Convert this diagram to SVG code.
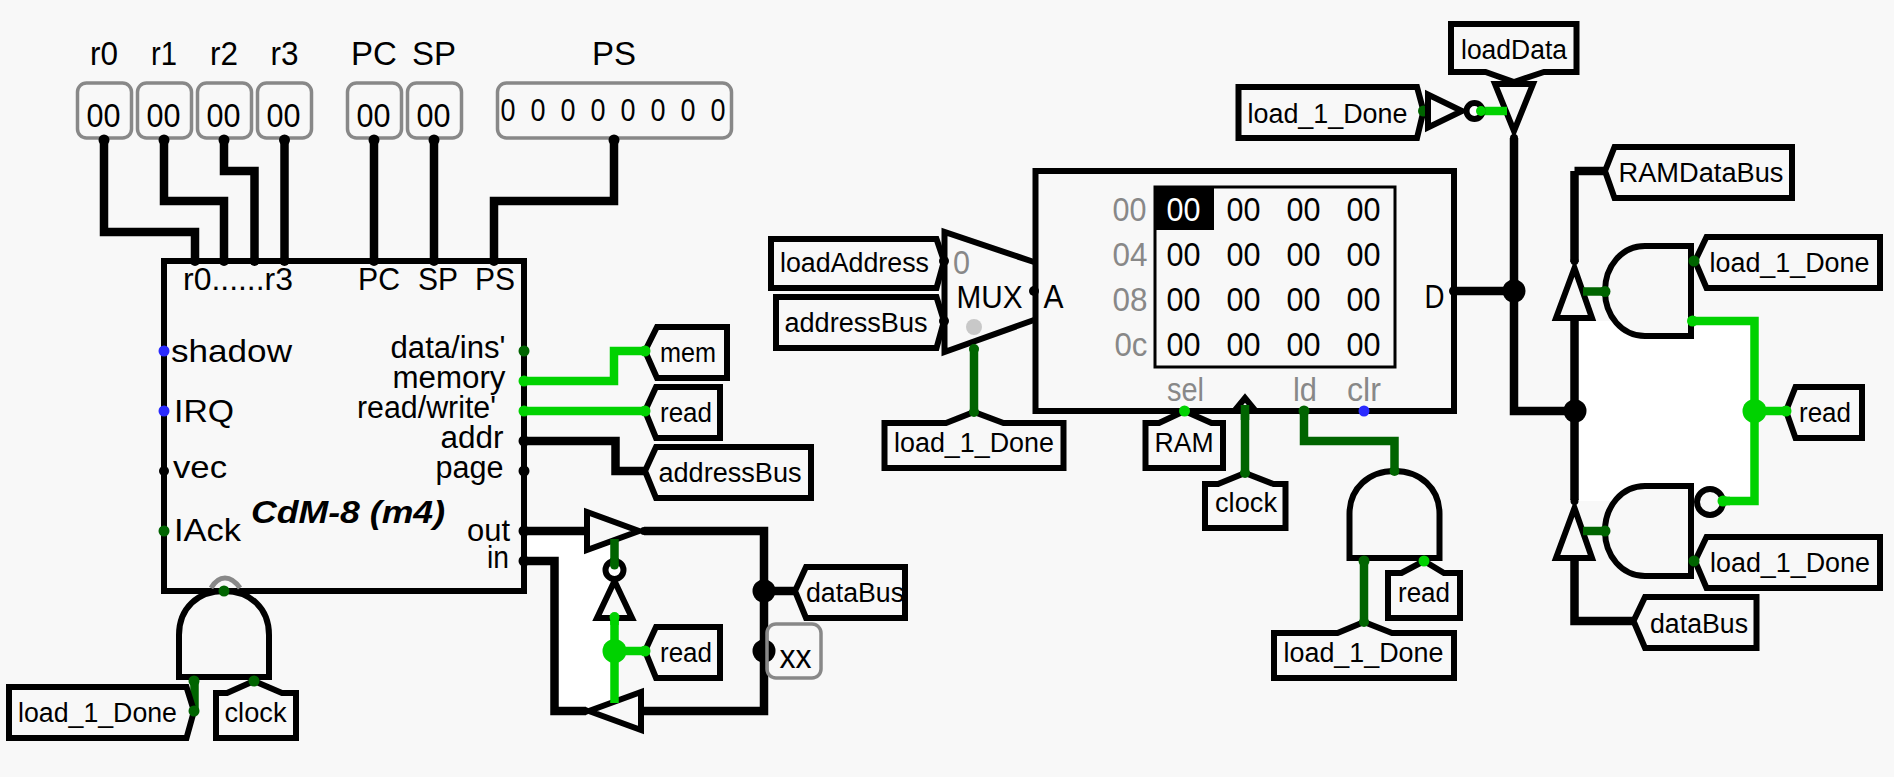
<svg xmlns="http://www.w3.org/2000/svg" width="1894" height="777" viewBox="0 0 1894 777">
<style>
text{font-family:"Liberation Sans",Arial,sans-serif;fill:#000;white-space:pre}
.m{font-size:33px;text-anchor:middle}
.d{font-size:34px;text-anchor:middle}
.b{font-size:31px;text-anchor:middle}
.l{font-size:32px}
.r{font-size:31px;text-anchor:end}
.t{font-size:27px;text-anchor:middle}
.g{fill:#888}
.reg{fill:none;stroke:#888;stroke-width:3.5}
.tag{fill:#f8f8f8;stroke:#000;stroke-width:6;stroke-linejoin:miter}
.gate{fill:#f8f8f8;stroke:#000;stroke-width:6}
.tri{fill:#f8f8f8;stroke:#000;stroke-width:6}
.w{fill:none;stroke:#000;stroke-width:8.500;stroke-linejoin:miter}
.wg{fill:none;stroke:#00d200;stroke-width:8.500}
.wd{fill:none;stroke:#006400;stroke-width:8.500}
.pk{fill:#000}.pg{fill:#00d200}.pd{fill:#006400}.pb{fill:#2a2aff}
</style>
<rect width="1894" height="777" fill="#f8f8f8"/>
<g id="backfill">
<polygon fill="#fff" points="524,531 614.500,531 614.500,711 555,711 555,561 524,561"/>
<rect fill="#fff" x="1575" y="321" width="179" height="180"/>
</g>
<g id="tristate-out"><polygon class="tri" points="587,512 587,550 639,531"/></g>
<g id="tristate-in"><polygon class="tri" points="641,692 641,730 589,711"/></g>
<g id="tristate-load"><polygon class="tri" points="1495,84 1533,84 1514,131"/></g>
<g id="tristate-up"><polygon class="tri" points="1556,318 1592,318 1574.500,268"/></g>
<g id="tristate-low"><polygon class="tri" points="1556,558 1592,558 1574.500,508"/></g>
<g id="connectors">
<path class="w" d="M104,140V232H195V261M164,140V201H224V261M224,140V171H254.500V261M284.500,140V261M374,140V261M434,140V261M614,140V201H494V261"/>
<path class="wg" d="M524,381H614V351H645M524,411H645M1693,321H1754.500V501H1723M1754.500,411H1786M614.500,617V703M614.500,651H645M1479,111H1507"/>
<path class="wd" d="M614.500,539V565M194.500,681V711M974,347V412M1245,412V473M1304,411V441H1394.500V472M1364,561V622M1583,291.500H1605M1583,531H1605"/>
<path class="w" d="M524,441H615.500V471H645M524,531H588M644,531H764V711H642M586,711H554.500V561H524M764,591H795M1454,291H1514M1514,138V411H1575M1574.500,171V262M1574.500,171H1605M1574.500,318V500M1574.500,558V621H1633"/>
<g class="pk"><circle cx="764" cy="591" r="11.500"/><circle cx="764" cy="651" r="11.500"/><circle cx="1514" cy="291" r="11.500"/><circle cx="1575" cy="411" r="11.500"/><circle cx="644" cy="531" r="4"/><circle cx="585" cy="711" r="4"/><circle cx="1514" cy="138" r="4"/><circle cx="1574.500" cy="261" r="4"/><circle cx="1574.500" cy="501" r="4"/></g>
<circle class="pg" cx="614.500" cy="651" r="12"/><circle class="pg" cx="1754.500" cy="411" r="12"/>
</g>
<g id="regs">
<rect class="reg" x="77.500" y="83" width="54" height="55" rx="9"/><rect class="reg" x="137.500" y="83" width="54" height="55" rx="9"/><rect class="reg" x="197.500" y="83" width="54" height="55" rx="9"/><rect class="reg" x="257.500" y="83" width="54" height="55" rx="9"/><rect class="reg" x="347.500" y="83" width="54" height="55" rx="9"/><rect class="reg" x="407.500" y="83" width="54" height="55" rx="9"/><rect class="reg" x="497.500" y="83" width="234" height="55" rx="9"/>
<text class="m" x="104" y="65" textLength="28" lengthAdjust="spacingAndGlyphs">r0</text><text class="m" x="164" y="65" textLength="26" lengthAdjust="spacingAndGlyphs">r1</text><text class="m" x="224" y="65" textLength="28" lengthAdjust="spacingAndGlyphs">r2</text><text class="m" x="284.500" y="65" textLength="28" lengthAdjust="spacingAndGlyphs">r3</text><text class="m" x="374" y="65">PC</text><text class="m" x="434" y="65">SP</text><text class="m" x="614" y="65">PS</text>
<text class="d" x="103.500" y="127" textLength="34" lengthAdjust="spacingAndGlyphs">00</text><text class="d" x="163.500" y="127" textLength="34" lengthAdjust="spacingAndGlyphs">00</text><text class="d" x="223.500" y="127" textLength="34" lengthAdjust="spacingAndGlyphs">00</text><text class="d" x="283.500" y="127" textLength="34" lengthAdjust="spacingAndGlyphs">00</text><text class="d" x="373.500" y="127" textLength="34" lengthAdjust="spacingAndGlyphs">00</text><text class="d" x="433.500" y="127" textLength="34" lengthAdjust="spacingAndGlyphs">00</text>
<text class="b" x="508" y="121" textLength="15" lengthAdjust="spacingAndGlyphs">0</text><text class="b" x="538" y="121" textLength="15" lengthAdjust="spacingAndGlyphs">0</text><text class="b" x="568" y="121" textLength="15" lengthAdjust="spacingAndGlyphs">0</text><text class="b" x="598" y="121" textLength="15" lengthAdjust="spacingAndGlyphs">0</text><text class="b" x="628" y="121" textLength="15" lengthAdjust="spacingAndGlyphs">0</text><text class="b" x="658" y="121" textLength="15" lengthAdjust="spacingAndGlyphs">0</text><text class="b" x="688" y="121" textLength="15" lengthAdjust="spacingAndGlyphs">0</text><text class="b" x="718" y="121" textLength="15" lengthAdjust="spacingAndGlyphs">0</text>
<g class="pk"><circle cx="104" cy="140" r="5.500"/><circle cx="164" cy="140" r="5.500"/><circle cx="224" cy="140" r="5.500"/><circle cx="284.500" cy="140" r="5.500"/><circle cx="374" cy="140" r="5.500"/><circle cx="434" cy="140" r="5.500"/><circle cx="614" cy="140" r="5.500"/></g>
</g>
<g id="cpu">
<rect x="164" y="261" width="360" height="330" fill="none" stroke="#000" stroke-width="6"/>
<text class="l" x="183" y="290" textLength="110" lengthAdjust="spacingAndGlyphs">r0......r3</text>
<text class="l" x="358" y="290" textLength="42" lengthAdjust="spacingAndGlyphs">PC</text><text class="l" x="418" y="290" textLength="40" lengthAdjust="spacingAndGlyphs">SP</text><text class="l" x="475" y="290" textLength="40" lengthAdjust="spacingAndGlyphs">PS</text>
<text class="l" x="171" y="362" textLength="121" lengthAdjust="spacingAndGlyphs">shadow</text>
<text class="l" x="174" y="422" textLength="60" lengthAdjust="spacingAndGlyphs">IRQ</text>
<text class="l" x="173" y="478" textLength="54" lengthAdjust="spacingAndGlyphs">vec</text>
<text class="l" x="174" y="541" textLength="67" lengthAdjust="spacingAndGlyphs">IAck</text>
<text class="r" x="505.500" y="358" textLength="115" lengthAdjust="spacingAndGlyphs">data/ins'</text><text class="r" x="505.500" y="388" textLength="113" lengthAdjust="spacingAndGlyphs">memory</text><text class="r" x="496" y="418" textLength="139" lengthAdjust="spacingAndGlyphs">read/write'</text><text class="r" x="503.500" y="448" textLength="63" lengthAdjust="spacingAndGlyphs">addr</text><text class="r" x="503.500" y="478" textLength="68" lengthAdjust="spacingAndGlyphs">page</text><text class="r" x="510" y="541" textLength="43" lengthAdjust="spacingAndGlyphs">out</text><text class="r" x="509" y="568" textLength="22" lengthAdjust="spacingAndGlyphs">in</text>
<text x="251" y="523" font-size="32" font-weight="bold" font-style="italic" textLength="194" lengthAdjust="spacingAndGlyphs">CdM-8 (m4)</text>
<path d="M211,588Q217,578 225,578Q233,578 240,588" fill="none" stroke="#888" stroke-width="5"/>
<g class="pk"><circle cx="195" cy="261" r="5"/><circle cx="224" cy="261" r="5"/><circle cx="254.500" cy="261" r="5"/><circle cx="284.500" cy="261" r="5"/><circle cx="374" cy="261" r="5"/><circle cx="434" cy="261" r="5"/><circle cx="494" cy="261" r="5"/><circle cx="164" cy="471" r="5"/><circle cx="524" cy="441" r="5.500"/><circle cx="524" cy="471" r="5.500"/><circle cx="524" cy="531" r="5.500"/><circle cx="524" cy="561" r="5.500"/></g>
<circle class="pb" cx="164" cy="351" r="5.500"/><circle class="pb" cx="164" cy="411" r="5.500"/><circle class="pd" cx="164" cy="531" r="5.500"/><circle class="pd" cx="524" cy="351" r="5.500"/><circle class="pg" cx="524" cy="381" r="5.500"/><circle class="pg" cx="524" cy="411" r="5.500"/>
</g>
<g id="and-bottom-left"><path class="gate" d="M179,677H269V635C269,608 250,591 224,591C198,591 179,608 179,635Z"/></g>
<g id="tag-load-1"><polygon class="tag" points="9,687 186.500,687 194,711 186.500,738 9,738"/><text class="t" x="97.500" y="722" textLength="159" lengthAdjust="spacingAndGlyphs">load_1_Done</text><circle class="pd" cx="194" cy="711" r="5.500"/><circle class="pd" cx="194" cy="681" r="5.500"/><circle class="pd" cx="224" cy="591" r="5.500"/></g>
<g id="tag-clock-1"><polygon class="tag" points="216,693 227,693 254,681 282,693 296,693 296,738 216,738"/><text class="t" x="255.500" y="722" textLength="62" lengthAdjust="spacingAndGlyphs">clock</text><circle class="pd" cx="254" cy="681" r="5.500"/></g>
<g id="tag-mem"><polygon class="tag" points="645,351 657,327 727,327 727,378 657,378"/><text class="t" x="688" y="362" textLength="56" lengthAdjust="spacingAndGlyphs">mem</text><circle class="pg" cx="645" cy="351" r="5.500"/></g>
<g id="tag-read-1"><polygon class="tag" points="645,411 656,387 720,387 720,438 656,438"/><text class="t" x="686" y="422" textLength="52" lengthAdjust="spacingAndGlyphs">read</text><circle class="pg" cx="645" cy="411" r="5.500"/></g>
<g id="tag-address-1"><polygon class="tag" points="645,471 656,447 811,447 811,498 656,498"/><text class="t" x="730" y="482" textLength="143" lengthAdjust="spacingAndGlyphs">addressBus</text></g>
<g id="not-read"><polygon class="tri" points="597,618 632,618 614.500,581"/><circle cx="614.500" cy="570" r="9" fill="#fff" stroke="#000" stroke-width="6"/><path class="wd" d="M614.500,558V565"/><circle class="pd" cx="614.500" cy="565" r="4.500"/><circle class="pg" cx="614.500" cy="617" r="5"/><path class="wg" d="M614.500,617V625"/></g>
<g id="tag-read-2"><polygon class="tag" points="645,651 656,627 720,627 720,678 656,678"/><text class="t" x="686" y="662" textLength="52" lengthAdjust="spacingAndGlyphs">read</text><circle class="pg" cx="645" cy="651" r="5.500"/></g>
<g id="tag-data-1"><polygon class="tag" points="795,591 806,567 905,567 905,618 806,618"/><text class="t" x="855" y="602" textLength="98" lengthAdjust="spacingAndGlyphs">dataBus</text></g>
<g id="probe-xx"><rect class="reg" x="767" y="624" width="54" height="54" rx="9"/><text class="m" x="795.500" y="668" textLength="32" lengthAdjust="spacingAndGlyphs">xx</text></g>
<g id="tag-load-address"><polygon class="tag" points="771,239 936.500,239 944,261 936.500,288 771,288"/><text class="t" x="854.500" y="272" textLength="149" lengthAdjust="spacingAndGlyphs">loadAddress</text></g>
<g id="tag-address-2"><polygon class="tag" points="776,297 936.500,297 944,321 936.500,348 776,348"/><text class="t" x="856" y="332" textLength="143" lengthAdjust="spacingAndGlyphs">addressBus</text></g>
<g id="mux"><path d="M1034,261L944.500,232V352L1034,321" fill="#f8f8f8" stroke="none"/><path d="M1034,262L944.500,232V352L1034,320" fill="none" stroke="#000" stroke-width="6"/>
<text class="m g" x="961.500" y="274" textLength="17" lengthAdjust="spacingAndGlyphs">0</text><text x="956.500" y="308" font-size="32" textLength="66" lengthAdjust="spacingAndGlyphs">MUX</text><circle cx="974" cy="327" r="8" fill="#c8c8c8"/><circle class="pk" cx="944" cy="261" r="5"/><circle class="pk" cx="944" cy="321" r="5"/></g>
<g id="ram">
<rect x="1035.500" y="171" width="418.500" height="240" fill="none" stroke="#000" stroke-width="6"/>
<rect x="1155" y="187" width="240" height="180" fill="none" stroke="#000" stroke-width="3"/>
<rect x="1155" y="187" width="59" height="43" fill="#000"/>
<text class="d" x="1183.500" y="220.500" textLength="34" lengthAdjust="spacingAndGlyphs" style="fill:#fff">00</text><text class="d" x="1243.500" y="220.500" textLength="34" lengthAdjust="spacingAndGlyphs">00</text><text class="d" x="1303.500" y="220.500" textLength="34" lengthAdjust="spacingAndGlyphs">00</text><text class="d" x="1363.500" y="220.500" textLength="34" lengthAdjust="spacingAndGlyphs">00</text>
<text class="d" x="1183.500" y="265.500" textLength="34" lengthAdjust="spacingAndGlyphs">00</text><text class="d" x="1243.500" y="265.500" textLength="34" lengthAdjust="spacingAndGlyphs">00</text><text class="d" x="1303.500" y="265.500" textLength="34" lengthAdjust="spacingAndGlyphs">00</text><text class="d" x="1363.500" y="265.500" textLength="34" lengthAdjust="spacingAndGlyphs">00</text>
<text class="d" x="1183.500" y="310.500" textLength="34" lengthAdjust="spacingAndGlyphs">00</text><text class="d" x="1243.500" y="310.500" textLength="34" lengthAdjust="spacingAndGlyphs">00</text><text class="d" x="1303.500" y="310.500" textLength="34" lengthAdjust="spacingAndGlyphs">00</text><text class="d" x="1363.500" y="310.500" textLength="34" lengthAdjust="spacingAndGlyphs">00</text>
<text class="d" x="1183.500" y="355.500" textLength="34" lengthAdjust="spacingAndGlyphs">00</text><text class="d" x="1243.500" y="355.500" textLength="34" lengthAdjust="spacingAndGlyphs">00</text><text class="d" x="1303.500" y="355.500" textLength="34" lengthAdjust="spacingAndGlyphs">00</text><text class="d" x="1363.500" y="355.500" textLength="34" lengthAdjust="spacingAndGlyphs">00</text>
<text class="d g" x="1129.500" y="220.500" textLength="34" lengthAdjust="spacingAndGlyphs">00</text><text class="d g" x="1130" y="265.500" textLength="35" lengthAdjust="spacingAndGlyphs">04</text><text class="d g" x="1130" y="310.500" textLength="35" lengthAdjust="spacingAndGlyphs">08</text><text class="d g" x="1131" y="355.500" textLength="33" lengthAdjust="spacingAndGlyphs">0c</text>
<text class="m" x="1053.500" y="308" textLength="20" lengthAdjust="spacingAndGlyphs">A</text><text class="m" x="1434.500" y="308" textLength="20" lengthAdjust="spacingAndGlyphs">D</text>
<text class="m g" x="1185.500" y="400.500" textLength="37" lengthAdjust="spacingAndGlyphs">sel</text><text class="m g" x="1305" y="400.500" textLength="24" lengthAdjust="spacingAndGlyphs">ld</text><text class="m g" x="1364" y="400.500" textLength="34" lengthAdjust="spacingAndGlyphs">clr</text>
<polygon points="1236,409 1245,398 1254,409" fill="#f8f8f8" stroke="#000" stroke-width="6"/>
<path class="wd" d="M1245,405V420"/>
<circle class="pk" cx="1034" cy="291" r="5"/><circle class="pk" cx="1454" cy="291" r="5"/><circle class="pd" cx="1304" cy="411" r="5.500"/><circle class="pb" cx="1364" cy="411" r="5.500"/>
</g>
<g id="tag-load-2"><polygon class="tag" points="884.500,423 946,423 974,412 1003.500,423 1063.500,423 1063.500,468 884.500,468"/><text class="t" x="974" y="452" textLength="160" lengthAdjust="spacingAndGlyphs">load_1_Done</text><circle class="pd" cx="974" cy="412" r="5"/><circle class="pd" cx="974" cy="349" r="5"/></g>
<g id="tag-ram"><polygon class="tag" points="1145.500,423 1159,423 1184.500,411 1211.500,423 1223,423 1223,468 1145.500,468"/><text class="t" x="1184" y="452" textLength="59" lengthAdjust="spacingAndGlyphs">RAM</text><circle class="pg" cx="1184.500" cy="411" r="5.500"/></g>
<g id="tag-clock-2"><polygon class="tag" points="1205,484 1218,484 1245,473 1273.500,484 1285.500,484 1285.500,528 1205,528"/><text class="t" x="1246" y="512" textLength="62" lengthAdjust="spacingAndGlyphs">clock</text><circle class="pd" cx="1245" cy="473" r="5"/></g>
<g id="and-ld"><path class="gate" d="M1349.500,558H1439.500V514C1439.500,488 1420,471 1394.500,471C1369,471 1349.500,488 1349.500,514Z"/><circle class="pd" cx="1394.500" cy="471" r="5"/><circle class="pd" cx="1364" cy="561" r="5.500"/></g>
<g id="tag-load-3"><polygon class="tag" points="1274,633 1337.500,633 1364,622 1392,633 1454,633 1454,678 1274,678"/><text class="t" x="1363.500" y="662" textLength="160" lengthAdjust="spacingAndGlyphs">load_1_Done</text><circle class="pd" cx="1364" cy="622" r="5"/></g>
<g id="tag-read-3"><polygon class="tag" points="1388,573 1401.500,573 1424,561 1444,573 1460,573 1460,618 1388,618"/><text class="t" x="1424" y="602" textLength="52" lengthAdjust="spacingAndGlyphs">read</text><circle class="pg" cx="1424" cy="561" r="5.500"/></g>
<g id="tag-load-4"><polygon class="tag" points="1238.500,87 1417,87 1423.500,111 1417,138 1238.500,138"/><text class="t" x="1327.500" y="123" textLength="160" lengthAdjust="spacingAndGlyphs">load_1_Done</text><circle class="pd" cx="1423.500" cy="111" r="5.500"/></g>
<g id="not-load"><polygon class="tri" points="1428,94.500 1428,127.500 1462,111"/><circle cx="1474.500" cy="111" r="8" fill="#fff" stroke="#000" stroke-width="6"/><circle class="pg" cx="1481" cy="111" r="5"/></g>
<g id="tag-loaddata"><polygon class="tag" points="1451,24 1576.500,24 1576.500,72 1544,72 1514,82 1485.500,72 1451,72"/><text class="t" x="1514" y="59" textLength="106" lengthAdjust="spacingAndGlyphs">loadData</text></g>
<g id="tag-ramdatabus"><polygon class="tag" points="1605,171 1614.500,147 1792,147 1792,198 1614.500,198"/><text class="t" x="1701" y="182" textLength="165" lengthAdjust="spacingAndGlyphs">RAMDataBus</text></g>
<g id="and-up"><path class="gate" d="M1691,246H1645C1622,246 1605,266 1605,291C1605,316 1622,336 1645,336H1691Z"/><circle class="pd" cx="1605" cy="291.500" r="5.500"/><circle class="pg" cx="1692.500" cy="321" r="5.500"/></g>
<g id="tag-load-5"><polygon class="tag" points="1695,261 1706.500,237 1880,237 1880,288 1706.500,288"/><text class="t" x="1789.500" y="272" textLength="160" lengthAdjust="spacingAndGlyphs">load_1_Done</text><circle class="pd" cx="1694" cy="261" r="5.500"/></g>
<g id="and-low"><path class="gate" d="M1691,486H1645C1622,486 1605,506 1605,531C1605,556 1622,576 1645,576H1691Z"/><circle class="pd" cx="1605" cy="531" r="5.500"/><circle cx="1710" cy="502" r="13" fill="#f8f8f8" stroke="#000" stroke-width="6"/><path class="wg" d="M1723,501H1730"/><circle class="pg" cx="1723" cy="501" r="5.500"/></g>
<g id="tag-load-6"><polygon class="tag" points="1695,561 1706.500,537 1880,537 1880,588 1706.500,588"/><text class="t" x="1790" y="572" textLength="160" lengthAdjust="spacingAndGlyphs">load_1_Done</text><circle class="pd" cx="1694" cy="561" r="5.500"/></g>
<g id="tag-read-4"><polygon class="tag" points="1786,411 1795.500,387 1862,387 1862,438 1795.500,438"/><text class="t" x="1825" y="422" textLength="52" lengthAdjust="spacingAndGlyphs">read</text><circle class="pg" cx="1786" cy="411" r="5.500"/></g>
<g id="tag-data-2"><polygon class="tag" points="1633.500,621 1645,597 1756.500,597 1756.500,648 1645,648"/><text class="t" x="1699" y="633" textLength="98" lengthAdjust="spacingAndGlyphs">dataBus</text></g>
</svg>
